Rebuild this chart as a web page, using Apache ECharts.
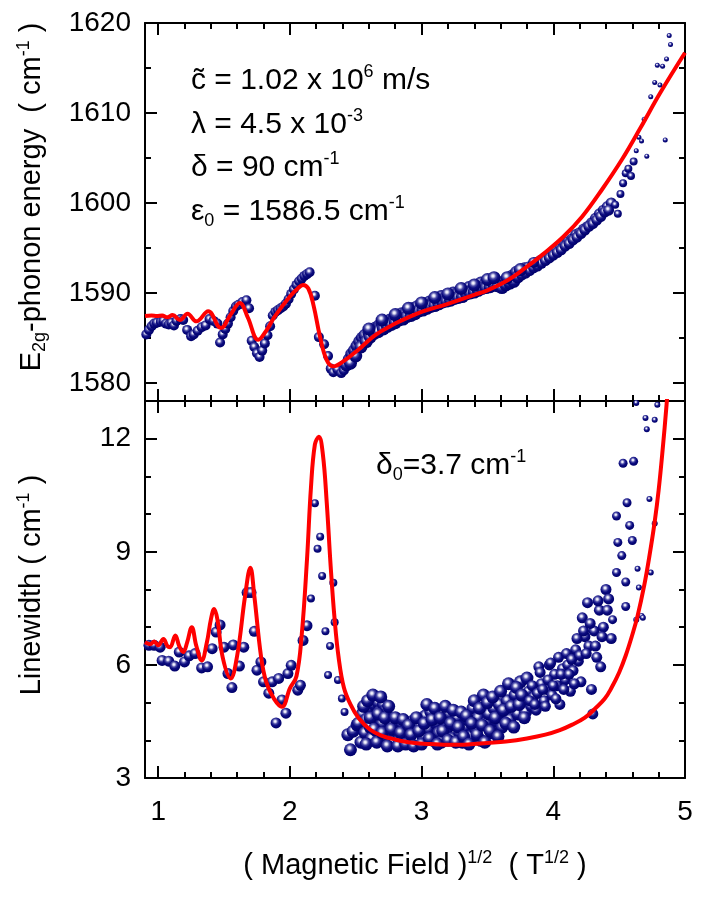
<!DOCTYPE html>
<html><head><meta charset="utf-8">
<script src="https://cdn.jsdelivr.net/npm/echarts@6/dist/echarts.min.js"></script>
<style>html,body{margin:0;padding:0;background:#fff}#c{width:706px;height:899px}</style>
</head><body><div id="c"></div>
<script>
// ---- tick labels ----
const fieldTicks = [1, 2, 3, 4, 5];
const energyTicks = [1580, 1590, 1600, 1610, 1620];
const widthTicks = [3, 6, 9, 12];

// ---- top panel: E2g phonon energy (measured) ----
const energyFieldX = [0.91,0.93,0.95,0.97,0.99,1.02,1.04,1.06,1.08,1.10,1.12,1.14,1.17,1.19,1.22,1.25,1.27,1.30,1.33,1.36,1.39,1.42,1.45,1.47,1.49,1.51,1.53,1.55,1.57,1.59,1.61,1.64,1.67,1.69,1.71,1.73,1.75,1.77,1.79,1.81,1.83,1.85,1.87,1.89,1.91,1.93,1.95,1.97,1.99,2.01,2.03,2.05,2.07,2.09,2.11,2.13,2.15,2.19,2.22,2.26,2.29,2.31,2.33,2.36,2.39,2.41,2.43,2.45,2.47,2.49,2.51,2.53,2.55,2.57,2.60,2.62,2.65,2.68,2.70,2.73,2.76,2.79,2.82,2.85,2.88,2.91,2.94,2.97,3.00,3.03,3.06,3.09,3.12,3.15,3.18,3.21,3.24,3.27,3.30,3.33,3.36,3.39,3.42,3.45,3.48,3.51,3.54,3.57,3.60,3.63,3.66,3.69,3.72,3.75,3.78,3.81,3.84,3.87,3.90,3.93,3.96,3.99,4.02,4.05,4.08,4.11,4.14,4.17,4.20,4.23,4.26,4.29,4.32,4.35,4.38,4.41,4.44,4.47,4.49,4.51,4.53,4.55,4.57,4.59,4.61,4.63,4.65,4.67,4.69,4.71,4.74,4.77,4.79,4.81,4.83,4.85,4.86,4.88,4.89,
  2.46,2.50,2.54,2.58,2.61,2.64,2.67,2.71,2.74,2.77,2.80,2.83,2.86,2.89,2.92,2.95,2.98,3.01,3.04,3.07,3.10,3.13,3.16,3.19,3.22,3.25,3.28,3.31,3.34,3.37,3.40,3.43,3.46,3.49,3.52,3.55,3.58,3.61,3.64,3.67,3.70,3.73,3.76,3.79,3.82,3.85,3.88,3.91,3.94,3.97,4.00,4.03,4.06,4.09,4.12,4.15,4.18,4.21,4.24,4.27,4.30,4.33,4.36,4.39,4.42,
  2.60,2.70,2.80,2.90,3.00,3.10,3.20,3.30,3.40,3.50,3.55,3.65,3.75,3.85];
const energyValues = [1585.4,1585.9,1586.3,1586.6,1586.7,1586.8,1586.9,1586.6,1586.5,1586.7,1586.4,1586.9,1587.1,1587.0,1585.9,1585.2,1585.4,1585.8,1586.2,1586.4,1587.1,1586.9,1586.6,1584.5,1585.4,1586.0,1586.6,1587.3,1588.0,1588.5,1588.7,1589.0,1589.2,1588.3,1584.7,1584.0,1583.3,1582.9,1583.6,1584.4,1585.3,1586.3,1587.5,1587.9,1588.1,1588.3,1588.5,1588.8,1589.3,1589.9,1590.4,1590.9,1591.3,1591.6,1591.9,1592.1,1592.3,1589.7,1585.1,1584.3,1583.0,1581.6,1581.2,1581.5,1581.1,1581.4,1582.0,1582.6,1583.2,1583.6,1584.1,1584.6,1585.0,1585.3,1585.6,1585.9,1586.1,1586.4,1586.6,1586.8,1587.0,1587.2,1587.4,1587.7,1587.8,1588.0,1588.3,1588.5,1588.6,1588.8,1589.0,1589.1,1589.4,1589.6,1589.5,1589.8,1590.0,1589.9,1590.2,1590.4,1590.6,1590.5,1590.8,1591.1,1591.0,1591.2,1591.5,1591.3,1591.0,1591.2,1591.5,1591.9,1592.3,1592.4,1592.8,1592.9,1593.0,1593.4,1593.6,1593.7,1594.0,1594.4,1594.7,1594.9,1595.3,1595.7,1596.0,1596.5,1596.7,1597.1,1597.4,1597.8,1598.3,1598.8,1599.2,1599.6,1600.0,1599.8,1598.8,1601.0,1602.2,1603.3,1603.8,1603.0,1604.6,1605.8,1607.3,1606.9,1609.3,1605.2,1611.8,1613.4,1615.3,1613.1,1615.2,1607.0,1616.0,1618.6,1617.6,
  1582.2,1583.0,1584.0,1584.6,1585.1,1585.5,1585.7,1586.0,1586.3,1586.5,1586.7,1587.0,1587.1,1587.4,1587.5,1587.7,1588.0,1588.1,1588.3,1588.5,1588.6,1588.8,1589.0,1589.1,1589.2,1589.4,1589.5,1589.6,1589.9,1590.0,1590.1,1590.3,1590.5,1590.6,1590.7,1590.9,1590.8,1590.6,1590.9,1591.1,1591.3,1591.8,1592.0,1592.2,1592.5,1592.8,1593.0,1593.3,1593.6,1593.9,1594.2,1594.5,1594.8,1595.2,1595.5,1595.9,1596.2,1596.6,1597.0,1597.4,1597.7,1598.1,1598.5,1599.0,1599.2,
  1586.0,1587.0,1587.6,1588.3,1588.9,1589.5,1589.9,1590.5,1590.9,1591.5,1591.7,1591.7,1592.6,1593.4];

// ---- top panel: model curve ----
const energyFitX = [0.90,0.95,0.99,1.03,1.07,1.11,1.165,1.223,1.29,1.38,1.476,1.55,1.62,1.68,1.76,1.82,1.886,2.00,2.06,2.10,2.14,2.18,2.228,2.278,2.33,2.405,2.52,2.645,2.80,2.90,3.00,3.20,3.40,3.50,3.64,3.78,3.93,4.08,4.22,4.37,4.52,4.66,4.81,5.00];
const energyFitY = [1587.45,1587.5,1587.45,1587.5,1587.3,1587.55,1587.0,1587.7,1586.85,1587.96,1586.1,1587.6,1588.9,1587.3,1584.8,1585.8,1587.4,1589.6,1590.5,1590.9,1590.5,1588.6,1585.2,1582.6,1581.85,1582.4,1583.7,1585.3,1586.6,1587.3,1587.9,1588.8,1589.8,1590.3,1591.3,1592.7,1594.4,1596.3,1598.5,1601.5,1604.8,1608.3,1612.2,1616.7];

// ---- bottom panel: linewidth (measured) ----
const widthFieldX = [0.93,0.97,1.015,1.03,1.08,1.126,1.16,1.20,1.235,1.28,1.33,1.375,1.41,1.44,1.47,1.50,1.53,1.56,1.57,1.617,1.65,1.675,1.705,1.73,1.75,1.78,1.80,1.84,1.865,1.895,1.915,1.94,1.97,1.985,2.01,2.06,2.08,2.10,2.13,2.16,2.19,2.21,2.23,2.245,2.27,2.29,2.305,2.33,2.34,2.365,2.395,2.415,2.44,2.46,2.48,2.51,2.52,2.54,2.55,2.57,2.58,2.60,2.61,2.62,2.64,2.65,2.66,2.67,2.68,2.70,2.71,2.72,2.73,2.75,2.76,2.78,2.79,2.81,2.83,2.85,2.87,2.89,2.91,2.93,2.95,2.97,2.99,3.01,3.03,3.05,3.07,3.09,3.11,3.13,3.15,3.17,3.19,3.21,3.23,3.25,3.27,3.29,3.31,3.33,3.35,3.37,3.39,3.41,3.43,3.45,3.47,3.49,3.51,3.53,3.55,3.57,3.59,3.61,3.63,3.65,3.67,3.69,3.71,3.73,3.75,3.77,3.79,3.81,3.83,3.85,3.87,3.89,3.91,3.93,3.95,3.97,3.99,4.01,4.03,4.05,4.07,4.09,4.11,4.13,4.15,4.17,4.19,4.21,4.22,4.24,4.26,4.27,4.29,4.30,4.31,4.33,4.35,4.36,4.38,4.40,4.42,4.44,4.45,4.48,4.49,4.48,4.52,4.53,4.55,4.55,4.56,4.58,4.60,4.61,4.63,4.64,4.65,4.67,4.68,4.70,4.71,4.73,4.74,4.77,4.77,4.79,4.63,
  2.56,2.58,2.59,2.61,2.63,2.64,2.66,2.67,2.69,2.70,2.72,2.74,2.75,2.77,2.80,2.82,2.84,2.86,2.88,2.90,2.92,2.94,2.96,2.98,3.00,3.02,3.04,3.06,3.08,3.10,3.12,3.14,3.16,3.18,3.20,3.22,3.24,3.26,3.28,3.30,3.32,3.34,3.36,3.38,3.40,3.42,3.44,3.46,3.48,3.50,3.52,3.54,3.56,3.58,3.60,3.62,3.64,3.66,3.68,3.70,3.72,3.74,3.76,3.78,3.80,3.82,3.84,3.86,3.88,3.90,3.92,3.94,3.96,3.98,4.00,4.02,4.04,4.06,4.08,4.10,4.12,4.14,4.16,4.18,4.20,4.23,4.25,4.28,4.32,4.34,4.37,4.41];
const widthValues = [6.52,6.52,6.47,6.12,6.1,5.97,6.34,6.08,6.24,6.3,5.92,5.95,6.43,6.87,7.06,6.47,5.77,5.4,6.53,5.97,6.47,7.92,7.92,6.89,5.86,6.08,5.55,5.25,5.55,4.46,5.64,5.07,4.72,5.77,5.99,5.33,5.46,6.65,7.04,7.76,10.29,9.08,9.4,8.36,6.89,5.73,6.5,8.18,7.13,5.6,5.11,4.75,4.15,3.75,4.24,4.41,4.45,3.95,4.7,4.2,4.55,4.85,4.35,4.05,4.95,4.6,4.25,5.0,4.75,4.45,4.95,4.1,4.8,4.55,4.2,3.95,4.4,4.25,4.0,4.45,4.15,4.3,3.95,4.5,4.2,4.0,4.35,4.1,4.65,4.3,4.75,4.0,4.45,4.2,3.95,4.55,4.3,4.7,4.05,4.4,4.6,4.2,3.95,4.35,4.55,4.1,4.85,4.3,4.6,4.0,5.2,4.45,4.7,4.2,4.85,4.5,4.95,4.35,4.75,5.05,4.55,4.9,5.2,4.7,5.55,5.0,4.75,5.3,4.9,5.15,4.8,5.95,5.5,5.05,5.35,6.0,5.2,5.75,5.45,4.95,5.9,5.6,6.0,5.3,5.85,6.4,6.1,5.55,7.25,6.75,7.65,6.5,5.35,4.7,6.9,6.2,7.45,5.95,7.0,8.0,7.75,6.7,7.2,8.45,9.25,9.95,8.9,11.35,8.2,7.55,10.3,9.7,9.3,11.4,7.2,8.55,8.05,7.3,7.25,12.55,12.25,10.4,8.45,9.75,12.5,12.9,12.95,
  4.9,3.9,5.05,4.6,5.2,4.3,3.95,4.7,5.15,4.2,4.6,3.85,4.9,4.3,4.6,3.85,4.2,4.55,3.9,4.4,4.15,3.85,4.6,4.25,3.9,4.45,4.95,4.05,4.55,4.85,3.9,4.6,4.25,4.9,4.0,4.45,4.8,3.95,4.35,4.75,4.1,4.65,3.9,4.45,5.05,4.15,4.85,4.4,3.95,5.0,4.25,5.15,4.6,4.1,5.3,4.8,4.45,5.5,4.9,4.35,5.4,4.95,5.2,4.6,5.65,5.05,5.45,4.95,5.25,5.8,5.35,4.9,5.6,6.05,5.45,5.1,6.2,5.75,5.35,6.3,5.75,6.15,5.5,6.7,6.25,6.9,6.3,7.1,6.5,7.7,6.75,7.45];

// ---- bottom panel: model curve ----
const widthFitX = [0.90,0.94,0.97,1.00,1.04,1.07,1.09,1.13,1.16,1.19,1.22,1.255,1.29,1.33,1.37,1.40,1.425,1.45,1.49,1.55,1.60,1.66,1.70,1.73,1.78,1.82,1.88,1.94,2.00,2.05,2.09,2.13,2.16,2.19,2.22,2.25,2.28,2.31,2.34,2.37,2.41,2.46,2.52,2.61,2.70,2.80,2.90,3.06,3.20,3.35,3.50,3.64,3.80,3.94,4.05,4.14,4.24,4.32,4.39,4.44,4.50,4.55,4.60,4.64,4.69,4.73,4.77,4.80,4.83,4.86,4.89];
const widthFitY = [6.6,6.55,6.62,6.52,6.69,6.5,6.47,6.78,6.5,6.34,6.6,7.0,6.5,6.12,6.6,7.2,7.48,7.2,6.2,5.64,6.25,7.83,8.58,7.83,6.25,5.55,5.1,4.89,5.38,5.7,6.8,8.8,10.7,11.85,12.05,11.6,10.3,8.6,7.2,6.2,5.4,4.95,4.6,4.28,4.12,4.02,3.95,3.9,3.88,3.89,3.93,3.97,4.05,4.15,4.27,4.41,4.6,4.85,5.1,5.38,5.8,6.25,6.8,7.3,8.1,8.89,9.8,10.64,11.7,12.9,14.3];

// ---------------------------------------------------------------
const FONT = "'Liberation Sans', Arial, Helvetica, sans-serif";
const xMin = 0.9, xMax = 5;
const eMin = 1578, eMax = 1620;
const wMin = 3, wMax = 13;

function minorBetween(major, step, lo, hi) {
  const out = [];
  const first = major[0] - step * 10;
  for (let i = 0; i < 400; i++) {
    const v = Math.round((first + i * step) * 1000) / 1000;
    if (v <= lo || v >= hi) continue;
    if (major.some(m => Math.abs(m - v) < 1e-6)) continue;
    out.push(v);
  }
  return out;
}
const fieldMinor = minorBetween(fieldTicks, 0.2, xMin, xMax);
const energyMinor = minorBetween(energyTicks, 5, eMin, eMax);
const widthMinor = minorBetween(widthTicks, 1, wMin, wMax);

function axis(gridIndex, position, min, max, ticks, len, showLine, showLabel) {
  return {
    type: 'value', gridIndex, position, min, max,
    splitLine: { show: false },
    axisLine: { show: showLine, onZero: false, lineStyle: { color: '#000', width: 2 } },
    axisTick: { show: true, inside: true, length: len, customValues: ticks, lineStyle: { color: '#000', width: 2 } },
    axisLabel: showLabel ? {
      show: true, customValues: ticks, color: '#000', fontSize: 28, fontFamily: FONT,
      margin: (position === 'left' ? 14 : 20), formatter: v => String(v)
    } : { show: false },
    minorTick: { show: false }
  };
}

const xAxes = [
  axis(0, 'bottom', xMin, xMax, fieldTicks, 12, true, false),
  axis(0, 'top', xMin, xMax, fieldTicks, 12, true, false),
  axis(0, 'bottom', xMin, xMax, fieldMinor, 6, false, false),
  axis(0, 'top', xMin, xMax, fieldMinor, 6, false, false),
  axis(1, 'bottom', xMin, xMax, fieldTicks, 12, true, true),
  axis(1, 'top', xMin, xMax, fieldTicks, 12, true, false),
  axis(1, 'bottom', xMin, xMax, fieldMinor, 6, false, false),
  axis(1, 'top', xMin, xMax, fieldMinor, 6, false, false)
];
const yAxes = [
  axis(0, 'left', eMin, eMax, energyTicks, 12, true, true),
  axis(0, 'right', eMin, eMax, energyTicks, 12, true, false),
  axis(0, 'left', eMin, eMax, energyMinor, 6, false, false),
  axis(0, 'right', eMin, eMax, energyMinor, 6, false, false),
  axis(1, 'left', wMin, wMax, widthTicks, 12, true, true),
  axis(1, 'right', wMin, wMax, widthTicks, 12, true, false),
  axis(1, 'left', wMin, wMax, widthMinor, 6, false, false),
  axis(1, 'right', wMin, wMax, widthMinor, 6, false, false)
];

const sphere = {
  type: 'radial', x: 0.42, y: 0.36, r: 0.62,
  colorStops: [
    { offset: 0, color: '#ffffff' },
    { offset: 0.14, color: '#e4e4f6' },
    { offset: 0.38, color: '#4a4aa6' },
    { offset: 0.62, color: '#0c0c80' },
    { offset: 1, color: '#00006a' }
  ]
};

function topSize(v) {
  const x = v[0];
  if (x > 4.62) return 5;
  if (x > 4.45) return 8;
  if (x > 3.75) return 11;
  if (x > 2.42) return 13;
  return 10;
}
function botSize(v) {
  const x = v[0];
  if (x > 4.62) return 6;
  if (x > 4.44) return 9;
  if (x > 3.8) return 11;
  if (x > 2.42) return 13;
  if (x > 2.15) return 8;
  return 11;
}

const zip = (a, b) => a.map((v, i) => [v, b[i]]);

const rich = {
  a: { fontSize: 30, fontFamily: FONT, color: '#000', lineHeight: 36 },
  sup: { fontSize: 18, fontFamily: FONT, color: '#000', lineHeight: 18, verticalAlign: 'top' },
  sub: { fontSize: 18, fontFamily: FONT, color: '#000', lineHeight: 18, verticalAlign: 'bottom' }
};
const richT = {
  a: { fontSize: 29, fontFamily: FONT, color: '#000', lineHeight: 34 },
  sup: { fontSize: 18, fontFamily: FONT, color: '#000', lineHeight: 18, verticalAlign: 'top' },
  sub: { fontSize: 18, fontFamily: FONT, color: '#000', lineHeight: 18, verticalAlign: 'bottom' }
};
function txt(x, y, text, r, align, rotation) {
  return {
    type: 'text', x, y, z: 100, rotation: rotation || 0,
    style: { text, rich: r, fill: '#000', align: align || 'left', verticalAlign: 'middle' }
  };
}

const chart = echarts.init(document.getElementById('c'), null, { renderer: 'canvas' });
chart.setOption({
  animation: false,
  backgroundColor: '#fff',
  grid: [
    { left: 145, top: 23, width: 540, height: 378 },
    { left: 145, top: 401, width: 540, height: 377 }
  ],
  xAxis: xAxes,
  yAxis: yAxes,
  series: [
    { type: 'scatter', xAxisIndex: 0, yAxisIndex: 0, data: zip(energyFieldX, energyValues),
      symbolSize: topSize, itemStyle: { color: sphere, opacity: 1 } },
    { type: 'line', xAxisIndex: 0, yAxisIndex: 0, data: zip(energyFitX, energyFitY), smooth: 0.4,
      showSymbol: false, lineStyle: { color: '#ff0000', width: 4 }, z: 5 },
    { type: 'scatter', xAxisIndex: 4, yAxisIndex: 4, data: zip(widthFieldX, widthValues),
      symbolSize: botSize, itemStyle: { color: sphere, opacity: 1 } },
    { type: 'line', xAxisIndex: 4, yAxisIndex: 4, data: zip(widthFitX, widthFitY), smooth: 0.4,
      showSymbol: false, lineStyle: { color: '#ff0000', width: 4 }, z: 5 }
  ],
  graphic: [
    txt(191, 81, '{a|c\u0303 = 1.02 x 10}{sup|6}{a| m/s}', rich),
    txt(191, 125, '{a|\u03bb = 4.5 x 10}{sup|-3}', rich),
    txt(191, 168, '{a|\u03b4 = 90 cm}{sup|-1}', rich),
    txt(191, 212, '{a|\u03b5}{sub|0}{a| = 1586.5 cm}{sup|-1}', rich),
    txt(376, 466, '{a|\u03b4}{sub|0}{a|=3.7 cm}{sup|-1}', rich),
    txt(32, 197, '{a|E}{sub|2g}{a|-phonon energy  ( cm}{sup|-1}{a| )}', richT, 'center', Math.PI / 2),
    txt(32, 585, '{a|Linewidth ( cm}{sup|-1}{a| )}', richT, 'center', Math.PI / 2),
    txt(415, 866, '{a|( Magnetic Field )}{sup|1/2}{a|  ( T}{sup|1/2}{a| )}', richT, 'center', 0)
  ]
});
</script>
</body></html>
